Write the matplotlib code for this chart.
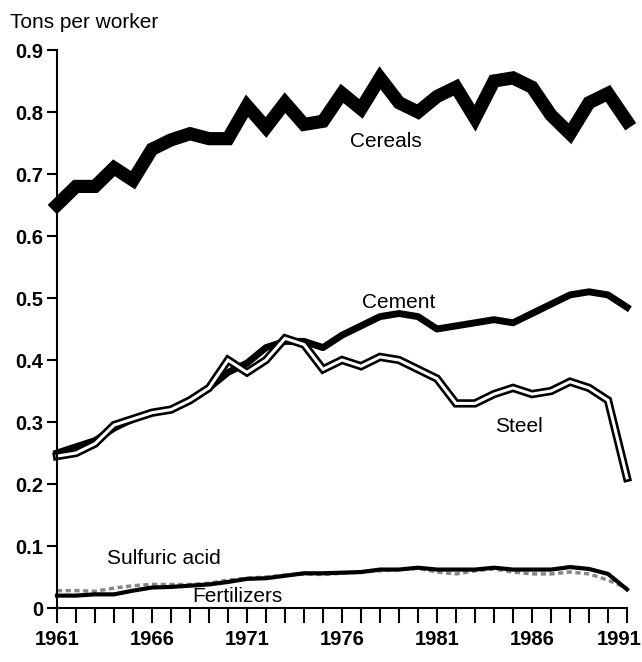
import matplotlib
matplotlib.use("Agg")
import matplotlib.pyplot as plt
import matplotlib.transforms as mtransforms

years = list(range(1961, 1992))
cereals = [0.65, 0.68, 0.68, 0.71, 0.69, 0.74, 0.755, 0.765, 0.757, 0.757,
           0.81, 0.775, 0.815, 0.78, 0.785, 0.83, 0.805, 0.855, 0.815, 0.80,
           0.825, 0.84, 0.79, 0.85, 0.855, 0.84, 0.795, 0.765, 0.815, 0.83, 0.785]
cement = [0.25, 0.26, 0.27, 0.29, 0.305, 0.315, 0.32, 0.335, 0.355, 0.38,
          0.395, 0.42, 0.43, 0.43, 0.42, 0.44, 0.455, 0.47, 0.475, 0.47,
          0.45, 0.455, 0.46, 0.465, 0.46, 0.475, 0.49, 0.505, 0.51, 0.505, 0.485]
steel = [0.245, 0.25, 0.265, 0.295, 0.305, 0.315, 0.32, 0.335, 0.355, 0.40,
         0.38, 0.40, 0.435, 0.425, 0.385, 0.40, 0.39, 0.405, 0.40, 0.385,
         0.37, 0.33, 0.33, 0.345, 0.355, 0.345, 0.35, 0.365, 0.355, 0.335, 0.21]
sulfuric = [0.028, 0.028, 0.027, 0.032, 0.036, 0.038, 0.038, 0.038, 0.04, 0.045,
            0.048, 0.05, 0.053, 0.055, 0.054, 0.056, 0.058, 0.06, 0.062, 0.064,
            0.058, 0.055, 0.06, 0.063, 0.058, 0.055, 0.055, 0.058, 0.055, 0.045, 0.032]
fertilizers = [0.02, 0.02, 0.022, 0.022, 0.028, 0.033, 0.034, 0.036, 0.038, 0.042,
               0.047, 0.048, 0.052, 0.056, 0.056, 0.057, 0.058, 0.062, 0.062, 0.065,
               0.062, 0.062, 0.062, 0.065, 0.062, 0.062, 0.062, 0.066, 0.063, 0.055, 0.03]
x_labels = ["1961", "1966", "1971", "1976", "1981", "1986", "1991"]
y_ticks = [0, 0.1, 0.2, 0.3, 0.4, 0.5, 0.6, 0.7, 0.8, 0.9]
y_labels = ["0", "0.1", "0.2", "0.3", "0.4", "0.5", "0.6", "0.7", "0.8", "0.9"]

plt.rcParams['font.family'] = ['Liberation Sans', 'DejaVu Sans']

fig = plt.figure(figsize=(6.42, 6.62), dpi=100)
ax = fig.add_axes([57/642, 54/662, 570/642, 558/662])

ax.plot(years, cereals, color='black', lw=9.5, solid_joinstyle='miter', clip_on=False)
ax.plot(years, cement, color='black', lw=5, solid_joinstyle='round', clip_on=False)
ax.plot(years, steel, color='black', lw=6, solid_joinstyle='miter', clip_on=False)
ax.plot(years, steel, color='white', lw=2.2, solid_joinstyle='miter', clip_on=False)
ax.plot(years, sulfuric, color='#888888', lw=2.5, linestyle=(0, (1.5, 1.0)), clip_on=False)
ax.plot(years, fertilizers, color='black', lw=3, clip_on=False)

ax.set_xlim(1961, 1991)
ax.set_ylim(0, 0.9)
ax.spines['top'].set_visible(False)
ax.spines['right'].set_visible(False)
ax.spines['left'].set_linewidth(1.5)
ax.spines['bottom'].set_linewidth(1.5)

ax.set_xticks(years, minor=True)
ax.set_xticks([int(v) for v in x_labels])
ax.set_xticklabels(x_labels, fontsize=14.5, fontweight='bold')
ax.set_yticks(y_ticks)
ax.set_yticklabels(y_labels, fontsize=14.5, fontweight='bold')
ax.tick_params(axis='x', which='both', direction='out', length=11, width=1.5, pad=5)
ax.tick_params(axis='y', direction='out', length=7, width=1.5, pad=3)

last = ax.get_xticklabels()[-1]
last.set_transform(last.get_transform() + mtransforms.ScaledTranslation(-8/100, 0, fig.dpi_scale_trans))

ax.text(1978.3, 0.752, "Cereals", fontsize=15, ha='center', va='center')
ax.text(1979.0, 0.492, "Cement", fontsize=15, ha='center', va='center')
ax.text(1985.3, 0.292, "Steel", fontsize=15, ha='center', va='center')
ax.text(1966.6, 0.080, "Sulfuric acid", fontsize=15, ha='center', va='center')
ax.text(1970.5, 0.019, "Fertilizers", fontsize=15, ha='center', va='center')

fig.text(10/642, 1 - 22/662, "Tons per worker", fontsize=15, ha='left', va='center')

fig.savefig("out.png", dpi=100)
